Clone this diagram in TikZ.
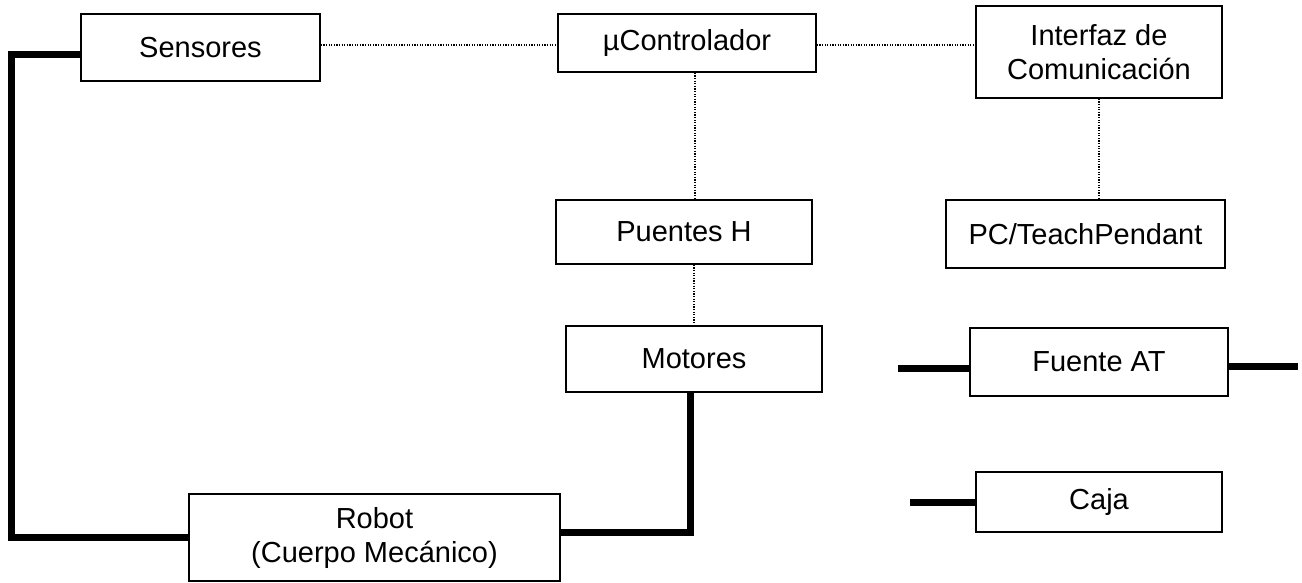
\documentclass[tikz,border=0pt]{standalone}
\usepackage{fontspec}
\setmainfont{Liberation Sans}
\begin{document}
\begin{tikzpicture}[x=1pt,y=-1pt,
  box/.style={draw, line width=1.5pt, inner sep=0pt, align=center,
    font=\fontsize{29}{34}\selectfont},
  dotline/.style={line width=1.3pt, dash pattern=on 1.3pt off 1.3pt},
  power/.style={line width=7pt}]
\useasboundingbox (0,0) rectangle (1302,582);
% boxes
\node[box, minimum width=239pt, minimum height=67pt] (sens) at (200.5,47.5) {Sensores};
\node[box, minimum width=258pt, minimum height=58pt] (mu) at (687,43) {µControlador};
\node[box, minimum width=246pt, minimum height=92pt] (inter) at (1099,52) {Interfaz de\\Comunicación};
\node[box, minimum width=256pt, minimum height=64pt] (ph) at (684,232) {Puentes H};
\node[box, minimum width=279pt, minimum height=68pt] (pc) at (1085.5,234) {PC/TeachPendant};
\node[box, minimum width=256pt, minimum height=66pt] (mot) at (694,359) {Motores};
\node[box, minimum width=258pt, minimum height=68pt] (fuente) at (1099,362) {Fuente AT};
\node[box, minimum width=246pt, minimum height=60pt] (caja) at (1099,502) {Caja};
\node[box, minimum width=371pt, minimum height=87pt] (robot) at (374.5,537.5) {Robot\\(Cuerpo Mecánico)};
% helper coordinates
\coordinate (r1) at (0,45);
\coordinate (c1) at (695,0);
\coordinate (c2) at (694,0);
\coordinate (tl) at (11,54);
\coordinate (bl) at (11,537);
\coordinate (br) at (690,532);
\coordinate (fl) at (898,368);
\coordinate (fr) at (1298,366);
\coordinate (cl) at (910,502);
% dotted connectors
\draw[dotline] (sens.east |- r1) -- (mu.west |- r1);
\draw[dotline] (mu.east |- r1) -- (inter.west |- r1);
\draw[dotline] (mu.south -| c1) -- (ph.north -| c1);
\draw[dotline] (ph.south -| c2) -- (mot.north -| c2);
\draw[dotline] (inter.south) -- (inter.south |- pc.north);
% thick connectors
\draw[power] (sens.west |- tl) -- (tl) -- (bl) -- (robot.west |- bl);
\draw[power] (robot.east |- br) -- (br) -- (mot.south -| br);
\draw[power] (fl) -- (fuente.west |- fl);
\draw[power] (fuente.east |- fr) -- (fr);
\draw[power] (cl) -- (caja.west |- cl);
\end{tikzpicture}
\end{document}
